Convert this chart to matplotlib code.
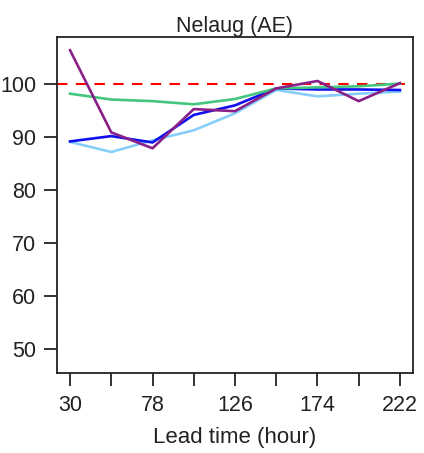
import matplotlib
matplotlib.use("Agg")
import matplotlib.pyplot as plt

plt.rcParams['font.family'] = ['Liberation Sans', 'DejaVu Sans']

lead_time = [30, 54, 78, 102, 126, 150, 174, 198, 222]
x_tick_labels = [30, 78, 126, 174, 222]
y_ticks = [50, 60, 70, 80, 90, 100]

series_lightblue = [89.1, 87.2, 89.4, 91.3, 94.5, 98.9, 97.7, 98.2, 98.6]
series_blue = [89.2, 90.2, 89.0, 94.2, 96.0, 99.2, 99.0, 99.0, 98.9]
series_green = [98.2, 97.1, 96.8, 96.2, 97.2, 99.2, 99.4, 99.6, 100.1]
series_purple = [106.4, 90.9, 87.9, 95.3, 94.9, 99.2, 100.6, 96.8, 100.2]
reference_level = 100

fig = plt.figure(figsize=(4.24, 4.53), dpi=100)
ax = fig.add_axes([57 / 424, 1 - 373 / 453, 356 / 424, 336 / 453])

ax.axhline(reference_level, color='#FF0000', lw=1.5, dashes=(5, 4), zorder=1)
ax.plot(lead_time, series_lightblue, color='#87CEFA', lw=1.9, zorder=2)
ax.plot(lead_time, series_blue, color='#1010EE', lw=1.9, zorder=3)
ax.plot(lead_time, series_green, color='#43C77E', lw=1.9, zorder=4)
ax.plot(lead_time, series_purple, color='#882088', lw=1.9, zorder=5)

ax.set_xlim(22.4, 229.6)
ax.set_ylim(45.5, 108.9)

ax.set_xticks(lead_time)
ax.set_xticklabels([str(t) if t in x_tick_labels else '' for t in lead_time])
ax.set_yticks(y_ticks)

for side in ax.spines.values():
    side.set_linewidth(1.3)
    side.set_color('#222222')

ax.tick_params(axis='both', direction='out', length=9.5, width=1.3,
               color='#222222', labelsize=15.5, labelcolor='#222222')
ax.tick_params(axis='x', pad=6)
ax.tick_params(axis='y', pad=5.5)

ax.set_title('Nelaug (AE)', fontsize=15.5, color='#222222', pad=2.5)
ax.set_xlabel('Lead time (hour)', fontsize=16, color='#222222', labelpad=8)

fig.savefig('out.png', dpi=100)
